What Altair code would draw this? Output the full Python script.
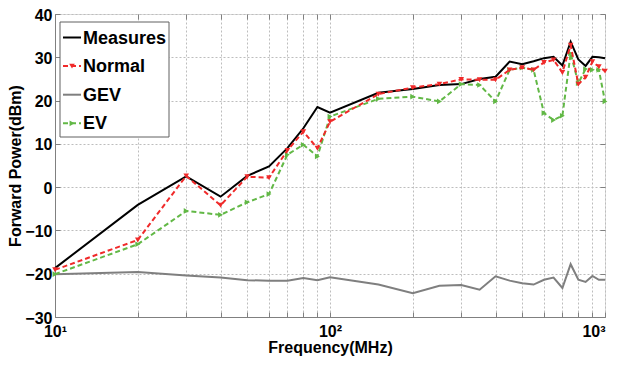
import altair as alt
import pandas as pd

# ---- data ----
freq = [10, 20, 30, 40, 50, 60, 70, 80, 90, 100, 150, 200, 250, 300, 350, 400,
        450, 500, 550, 600, 650, 700, 750, 800, 850, 900, 950, 1000]
measures = [-18.7, -4.1, 2.5, -2.2, 2.6, 4.8, 9.0, 13.6, 18.5, 17.2, 21.8, 22.7, 23.6, 23.8,
            25.0, 25.5, 29.0, 28.4, 29.1, 29.8, 30.1, 28.1, 33.6, 29.5, 28.0, 30.1, 30.0, 29.8]
normal = [-19.1, -12.2, 2.6, -4.2, 2.4, 2.2, 8.5, 12.8, 9.0, 15.1, 21.5, 23.0, 23.8, 24.9,
          24.8, 24.8, 27.1, 27.6, 27.1, 28.8, 29.4, 26.5, 32.8, 23.8, 25.4, 29.0, 27.8, 26.8]
gev = [-20.1, -19.6, -20.4, -20.9, -21.5, -21.6, -21.6, -21.0, -21.5, -20.8, -22.5, -24.5,
       -22.8, -22.6, -23.7, -20.6, -21.6, -22.2, -22.5, -21.4, -20.9, -23.3, -17.8, -21.4,
       -21.9, -20.5, -21.4, -21.4]
ev = [-20.1, -13.2, -5.5, -6.4, -3.5, -1.6, 7.5, 9.8, 7.1, 16.3, 20.4, 20.9, 19.8, 23.8,
      23.6, 19.8, 27.1, 27.6, 27.1, 17.1, 15.5, 16.5, 30.9, 24.0, 27.3, 27.1, 27.1, 19.8]
series_names = ["Measures", "Normal", "GEV", "EV"]
x_ticks = [10, 20, 30, 40, 50, 60, 70, 80, 90, 100, 200, 300, 400, 500, 600, 700, 800, 900, 1000]
y_ticks = [-30, -20, -10, 0, 10, 20, 30, 40]
x_title = "Frequency(MHz)"
y_title = "Forward Power(dBm)"

df = pd.DataFrame({"freq": freq, "Measures": measures, "Normal": normal, "GEV": gev, "EV": ev})

# ---- styling ----
W, H = 550, 303
FONT = "Liberation Sans"
RED = "#f02a2a"
GREEN = "#62b846"
GRAY = "#7f7f7f"
FRAME = "#808080"
styles = {
    "Measures": dict(color="#000000", dash=None, shape=None),
    "Normal": dict(color=RED, dash=[5, 3], shape="triangle-down"),
    "GEV": dict(color=GRAY, dash=None, shape=None),
    "EV": dict(color=GREEN, dash=[5, 3], shape="triangle-right"),
}

xscale = alt.Scale(type="log", domain=[10, 1000], nice=False)
yscale = alt.Scale(domain=[-30, 40], nice=False)

label_expr = ("datum.value == 10 ? '10\u00b9' : datum.value == 100 ? '10\u00b2' : "
              "datum.value == 1000 ? '10\u00b3' : ''")

main_x_axis = alt.Axis(values=x_ticks, labelExpr=label_expr, grid=True, gridDash=[2, 2],
                       gridColor="#bdbdbd", ticks=False, domain=True, domainColor=FRAME,
                       labelFont=FONT, labelFontSize=16, labelFontWeight="bold", labelColor="black",
                       labelPadding=6, labelFlush=False, labelOverlap=False,
                       labelAlign={"condition": {"test": "datum.value == 1000", "value": "right"},
                                   "value": "center"},
                       title=x_title, titleFont=FONT, titleFontSize=16, titleFontWeight="bold",
                       titleColor="black", titleBaseline="alphabetic", titleY=35)
main_y_axis = alt.Axis(values=y_ticks, grid=True, gridDash=[2, 2], gridColor="#bdbdbd",
                       ticks=False, domain=True, domainColor=FRAME,
                       labelFont=FONT, labelFontSize=16, labelFontWeight="bold", labelColor="black",
                       labelPadding=3, labelFlush=False, labelOffset=1,
                       title=y_title, titleFont=FONT, titleFontSize=16, titleFontWeight="bold",
                       titleColor="black", titleX=-40, titleBaseline="middle")

def tick_axis(orient, offset, vals):
    return alt.Axis(orient=orient, offset=offset, values=vals, labels=False, grid=False,
                    domain=False, ticks=True, tickSize=5, tickColor=FRAME, title=None)

def line_layer(name, xaxis=None, yaxis=None):
    st = styles[name]
    kw = dict(color=st["color"], strokeWidth=2)
    if st["dash"]:
        kw["strokeDash"] = st["dash"]
    return alt.Chart(df).mark_line(**kw).encode(
        x=alt.X("freq:Q", scale=xscale, axis=xaxis),
        y=alt.Y(f"{name}:Q", scale=yscale, axis=yaxis),
    )

def point_layer(name):
    st = styles[name]
    return alt.Chart(df).mark_point(shape=st["shape"], filled=True, size=32, opacity=1,
                                    color=st["color"]).encode(
        x=alt.X("freq:Q", scale=xscale, axis=None),
        y=alt.Y(f"{name}:Q", scale=yscale, axis=None),
    )

layers = [
    line_layer("GEV", tick_axis("top", -H, x_ticks), tick_axis("right", -W, y_ticks)),
    line_layer("Measures", main_x_axis, main_y_axis),
    line_layer("EV", tick_axis("bottom", -H, x_ticks), tick_axis("left", -W, y_ticks)),
    point_layer("EV"),
    line_layer("Normal"),
    point_layer("Normal"),
]

# ---- legend (drawn box in the upper-left corner) ----
one = pd.DataFrame({"k": [0]})
layers.append(alt.Chart(one).mark_rect(fill="white", stroke="#606060", strokeWidth=1).encode(
    x=alt.value(5), x2=alt.value(114), y=alt.value(8), y2=alt.value(123)))
for i, name in enumerate(series_names):
    st = styles[name]
    yp = 23.5 + 28.6 * i
    kw = dict(color=st["color"], strokeWidth=2)
    if st["dash"]:
        kw["strokeDash"] = st["dash"]
    layers.append(alt.Chart(one).mark_rule(**kw).encode(
        x=alt.value(8), x2=alt.value(26), y=alt.value(yp)))
    if st["shape"]:
        layers.append(alt.Chart(one).mark_point(shape=st["shape"], filled=True, size=32,
                                                opacity=1, color=st["color"]).encode(
            x=alt.value(17), y=alt.value(yp)))
    layers.append(alt.Chart(one).mark_text(align="left", baseline="middle", font=FONT,
                                           fontSize=18, fontWeight="bold", color="black").encode(
        x=alt.value(28), y=alt.value(yp + 1), text=alt.value(name)))

chart = alt.layer(*layers).resolve_axis(x="independent", y="independent").properties(
    width=W, height=H,
    autosize=alt.AutoSizeParams(type="none"),
    padding={"left": 47, "top": 6, "right": 5, "bottom": 40},
).configure_view(stroke=FRAME, strokeWidth=1).configure(background="white")

chart.save("out.html", embed_options={"renderer": "svg", "actions": False})
